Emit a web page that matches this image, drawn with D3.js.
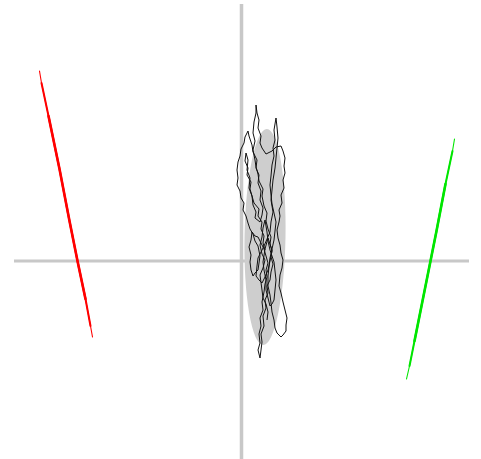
<!DOCTYPE html>
<html>
<head>
<meta charset="utf-8">
<script src="https://cdn.jsdelivr.net/npm/d3@7"></script>
<style>
  body { margin: 0; background: #fff; }
</style>
</head>
<body>
<div id="chartdiv"></div>
<script>
// score trajectory (black path)
var trackX = [
  .235, .215, .225, .195, .205, .165, .175, .125, .105, .085, .095, .055, .065, .035, .045, .065,
  .055, .085, .075, .105, .115, .145, .135, .185, .205, .215, .185, .195, .165, .175, .145, .155,
  .115, .105, .075, .065, .035, .025, -.005, -.015, -.035, -.045, -.035, -.045, -.015, -.005, .025, .015,
  .045, .065, .085, .115, .135, .165, .185, .175, .165, .135, .115, .095, .085, .095, .075, .095,
  .105, .135, .165, .195, .225, .245, .265, .245, .255, .235, .225, .205, .215, .185, .195, .175,
  .185, .165, .185, .195, .205, .195, .225, .215, .245, .235, .265, .255, .285, .295, .315, .295,
  .305, .285, .295, .265, .245, .255, .225, .205, .215, .175, .165, .145, .135, .115, .135, .115,
  .125, .145, .145, .155, .175, .165, .195, .185, .205, .245, .305, .345, .395, .415, .435, .425,
  .435, .415, .425, .395, .405, .375, .385, .375, .355, .365, .385, .395, .415, .405, .385, .375,
  .395, .415, .435, .455, .445, .445, .415, .395, .355, .335, .325, .305, .295, .285, .265, .265,
  .275, .285, .305, .325, .335, .345, .325, .305, .295, .285, .295, .305, .325, .315, .335, .325,
  .345, .355, .365, .355, .345, .335, .315, .305, .295, .315, .295, .285, .255, .225, .195, .165,
  .155, .145, .175, .205, .235, .265, .285, .305, .285, .265, .235, .215, .225, .245, .245, .265,
  .285, .305, .325, .335, .345, .335, .325, .305, .285, .265, .255, .245, .235, .215, .205, .185,
  .205, .235, .215, .185, .205, .215, .245, .265, .255];
var trackY = [
  .11, .18, .25, .32, .39, .45, .52, .58, .65, .72, .79, .86, .93, 1.00, 1.08, 1.01,
  .91, .83, .73, .65, .56, .49, .43, .39, .46, .53, .61, .70, .78, .86, .93, 1.01,
  1.09, 1.16, 1.25, 1.30, 1.24, 1.18, 1.12, 1.05, .99, .91, .83, .76, .70, .63, .58, .51,
  .45, .38, .32, .27, .20, .15, .05, -.02, -.09, -.12, -.15, -.09, -.01, .06, .14, .21,
  .29, .25, .24, .18, .12, .05, -.02, -.09, -.16, -.23, -.31, -.41, -.49, -.57, -.65, -.73,
  -.82, -.89, -.97, -.89, -.81, -.73, -.65, -.55, -.47, -.39, -.32, -.25, -.19, -.11, -.03, .04,
  .11, .17, .24, .32, .40, .48, .55, .65, .72, .80, .87, .94, 1.01, 1.11, 1.20, 1.28,
  1.39, 1.48, 1.56, 1.48, 1.41, 1.33, 1.25, 1.18, 1.13, 1.07, 1.10, 1.14, 1.15, 1.10, 1.03, .95,
  .88, .81, .73, .66, .58, .51, .45, .39, .31, .23, .16, .08, .01, -.07, -.14, -.25,
  -.32, -.41, -.49, -.57, -.64, -.70, -.74, -.76, -.72, -.67, -.59, -.51, -.42, -.34, -.25, -.15,
  -.06, .03, .12, .21, .30, .39, .48, .57, .66, .76, .85, .96, 1.05, 1.13, 1.21, 1.31,
  1.43, 1.34, 1.23, 1.13, 1.03, .93, .81, .71, .61, .49, .39, .29, .22, .15, .09, .03,
  -.05, -.15, -.19, -.22, -.16, -.09, .00, .10, .17, .23, .12, -.01, -.09, -.19, -.29, -.37,
  -.45, -.43, -.39, -.29, -.19, -.10, -.01, .05, .11, .20, .29, .35, .41, .33, .24, .16,
  .07, .01, -.07, -.14, -.29, -.37, -.43, -.51, -.59];

// loading vectors
var redX = [-2.02, -2.00, -1.93, -1.82, -1.72, -1.64, -1.56, -1.51, -1.49];
var redY = [1.90, 1.78, 1.45, 0.92, 0.40, 0.00, -0.38, -0.65, -0.76];
var greenX = [2.13, 2.11, 2.04, 1.95, 1.89, 1.81, 1.73, 1.68, 1.65];
var greenY = [1.22, 1.10, 0.77, 0.30, 0.00, -0.40, -0.80, -1.05, -1.18];

// confidence ellipse: centre, radii, tilt (degrees)
var ellipseCenter = [0.235, 0.24];
var ellipseRadius = [0.205, 1.08];
var ellipseTilt = 1;

var svgWidth = 481;
var svgHeight = 459;

var svg = d3.select("#chartdiv")
    .append("svg")
    .attr("width", svgWidth)
    .attr("height", svgHeight);

var xScale = d3.scaleLinear()
    .domain([-2.275, 2.275])
    .range([14, 469]);

var yScale = d3.scaleLinear()
    .domain([-1.98, 2.57])
    .range([459, 4]);

// axes through the origin
svg.append("line")
    .attr("x1", xScale.range()[0])
    .attr("x2", xScale.range()[1])
    .attr("y1", yScale(0))
    .attr("y2", yScale(0))
    .attr("stroke", "#c8c8c8")
    .attr("stroke-width", 3);

svg.append("line")
    .attr("x1", xScale(0))
    .attr("x2", xScale(0))
    .attr("y1", yScale.range()[1])
    .attr("y2", yScale.range()[0])
    .attr("stroke", "#c8c8c8")
    .attr("stroke-width", 3.5);

// ellipse
var cx = xScale(ellipseCenter[0]);
var cy = yScale(ellipseCenter[1]);
svg.append("ellipse")
    .attr("cx", cx)
    .attr("cy", cy)
    .attr("rx", xScale(ellipseRadius[0]) - xScale(0))
    .attr("ry", yScale(0) - yScale(ellipseRadius[1]))
    .attr("transform", `rotate(${ellipseTilt}, ${cx}, ${cy})`)
    .attr("fill", "#cecece");

var line = d3.line()
    .x(d => xScale(d[0]))
    .y(d => yScale(d[1]));

var track = d3.zip(trackX, trackY);
svg.append("path")
    .attr("d", line(track))
    .attr("fill", "none")
    .attr("stroke", "#111")
    .attr("stroke-width", 1)
    .attr("stroke-linejoin", "round");

// tapered vector: thin over the full length, thicker towards the middle
function drawVector(xs, ys, color) {
    var pts = d3.zip(xs, ys);
    var n = pts.length;
    var layers = [[0, n, 1.1], [1, n - 1, 2.0], [2, n - 2, 2.6]];
    layers.forEach(function (l) {
        svg.append("path")
            .attr("d", line(pts.slice(l[0], l[1])))
            .attr("fill", "none")
            .attr("stroke", color)
            .attr("stroke-width", l[2])
            .attr("stroke-linecap", "round");
    });
}

drawVector(redX, redY, "#ff0000");
drawVector(greenX, greenY, "#00e600");
</script>
</body>
</html>
